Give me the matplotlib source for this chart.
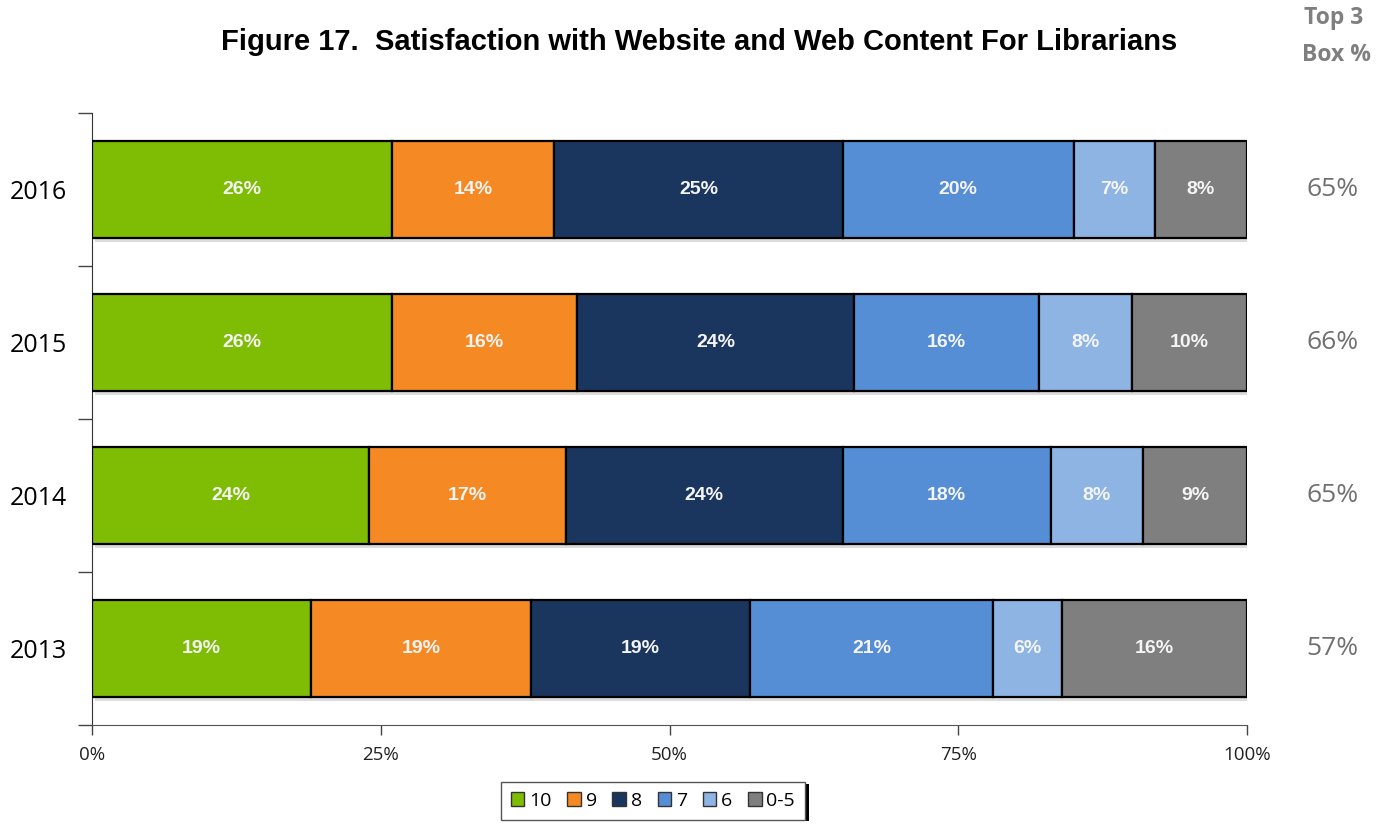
import matplotlib.pyplot as plt
import matplotlib.patheffects as pe
from matplotlib.patches import Patch
from matplotlib.ticker import FixedLocator

# Survey data
years = ['2016', '2015', '2014', '2013']
ratings = ['10', '9', '8', '7', '6', '0-5']
scores = {
    '10':  [26, 26, 24, 19],
    '9':   [14, 16, 17, 19],
    '8':   [25, 24, 24, 19],
    '7':   [20, 16, 18, 21],
    '6':   [7, 8, 8, 6],
    '0-5': [8, 10, 9, 16],
}
top3 = [65, 66, 65, 57]

colors = ['#7FBC04', '#F58A24', '#1B365E', '#558ED5', '#8EB4E3', '#7F7F7F']

fig = plt.figure(figsize=(13.87, 8.24), dpi=100)
ax = fig.add_axes([92 / 1387, 1 - 725 / 824, 1155 / 1387, 612 / 824])

ypos = list(range(len(years)))[::-1]
left = [0] * len(years)
shadow = [pe.SimplePatchShadow(offset=(2, -3), shadow_rgbFace='#bbbbbb', alpha=0.5), pe.Normal()]
for r, c in zip(ratings, colors):
    vals = scores[r]
    bars = ax.barh(ypos, vals, left=left, height=0.63, color=c,
                   edgecolor='black', linewidth=1.6, path_effects=shadow, zorder=3)
    for b, v in zip(bars, vals):
        ax.text(b.get_x() + b.get_width() / 2, b.get_y() + b.get_height() / 2,
                f'{v}%', ha='center', va='center', color='#F4F4F4',
                fontsize=14, fontweight='bold', family='Liberation Sans', zorder=4)
    left = [a + v for a, v in zip(left, vals)]

ax.set_xlim(0, 100)
ax.set_ylim(-0.5, len(years) - 0.5)

# x axis
ax.set_xticks([0, 25, 50, 75, 100])
ax.set_xticklabels(['0%', '25%', '50%', '75%', '100%'], family='Open Sans',
                   fontsize=13.5, color='#222222')
ax.tick_params(axis='x', length=7, width=1, color='#444444', pad=8)

# y axis: labels at bar centres, ticks between categories
ax.set_yticks(ypos)
ax.set_yticklabels(years, family='Open Sans', fontsize=18)
ax.tick_params(axis='y', which='major', length=0, pad=18)
ax.yaxis.set_minor_locator(FixedLocator([-0.5, 0.5, 1.5, 2.5, 3.5]))
ax.tick_params(axis='y', which='minor', length=10, width=1, color='#444444')

for s in ['top', 'right']:
    ax.spines[s].set_visible(False)
ax.spines['left'].set_color('#333333')
ax.spines['bottom'].set_color('#555555')

# Top 3 box column
for y, v in zip(ypos, top3):
    ax.text(1.074, y, f'{v}%', transform=ax.get_yaxis_transform(), ha='center',
            va='center', fontsize=19, color='#707070', family='Open Sans')
fig.text(1334 / 1387, 1 - 18 / 824, 'Top 3', ha='center', va='center',
         fontsize=16.5, fontweight='bold', color='#7F7F7F', family='Open Sans')
fig.text(1336 / 1387, 1 - 55 / 824, 'Box %', ha='center', va='center',
         fontsize=16.5, fontweight='bold', color='#7F7F7F', family='Open Sans')

fig.text(699 / 1387, 1 - 42 / 824, 'Figure 17.  Satisfaction with Website and Web Content For Librarians',
         ha='center', va='center', fontsize=21, fontweight='bold', family='Liberation Sans')

handles = [Patch(facecolor=c, edgecolor='#333333', label=r) for r, c in zip(ratings, colors)]
leg = fig.legend(handles=handles, loc='center', bbox_to_anchor=(653 / 1387, 1 - 801 / 824),
                 ncol=6, frameon=True, fancybox=False, shadow=False, framealpha=1,
                 handlelength=0.7, handleheight=0.7, handletextpad=0.25, columnspacing=0.8,
                 borderpad=0.5, edgecolor='#555555', prop={'family': 'Open Sans', 'size': 14})
leg.get_frame().set_path_effects([pe.SimplePatchShadow(offset=(3, -1), shadow_rgbFace='black', alpha=1), pe.Normal()])

fig.savefig('out.png', dpi=100)
